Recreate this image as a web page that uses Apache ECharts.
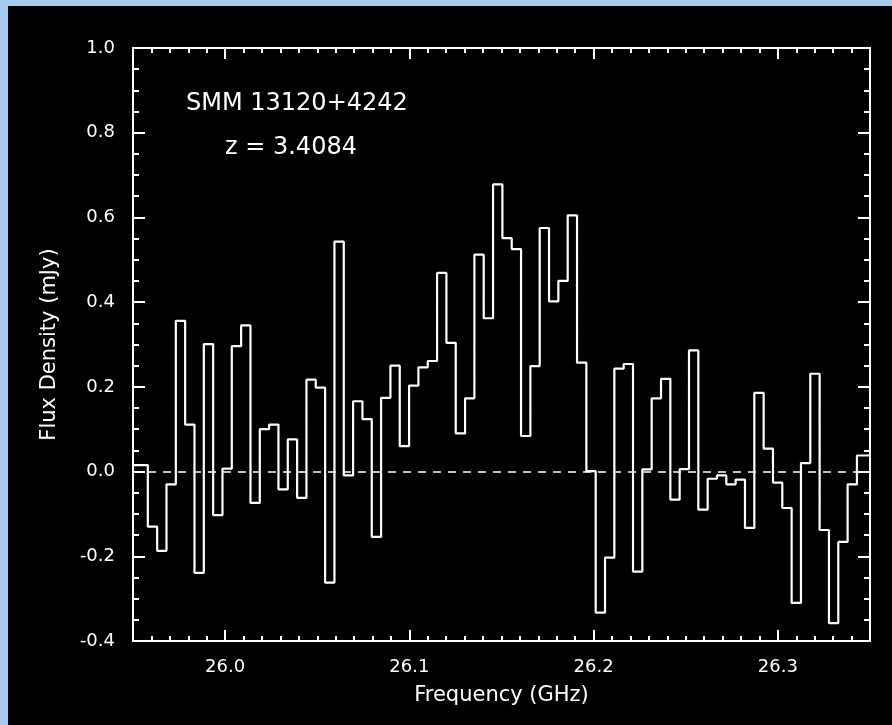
<!DOCTYPE html>
<html>
<head>
<meta charset="utf-8">
<script src="https://cdn.jsdelivr.net/npm/echarts@6/dist/echarts.min.js"></script>
<style>
html,body{margin:0;padding:0;background:#a7cbee;width:892px;height:725px;overflow:hidden;}
#chart{position:absolute;left:8px;top:6px;width:884px;height:719px;background:#000;}
</style>
</head>
<body>
<div id="chart"></div>
<script>
// Axis ranges and ticks
const xMin = 25.95, xMax = 26.35;
const yMin = -0.4, yMax = 1.0, yStep = 0.2;
const xTitle = 'Frequency (GHz)';
const yTitle = 'Flux Density (mJy)';
const sourceName = 'SMM 13120+4242';
const redshiftText = 'z = 3.4084';

// Spectral channels: first full-channel left edge and channel width (GHz)
const chanFirstEdge = 25.95805;
const chanWidth = 0.005064;

// Flux density per channel (mJy), left to right
const flux = [
  0.015, -0.13, -0.187, -0.03, 0.356, 0.111, -0.239, 0.301, -0.103, 0.007,
  0.296, 0.345, -0.074, 0.100, 0.111, -0.042, 0.076, -0.062, 0.217, 0.198,
  -0.262, 0.543, -0.009, 0.166, 0.124, -0.154, 0.174, 0.250, 0.060, 0.203,
  0.246, 0.261, 0.469, 0.304, 0.090, 0.173, 0.512, 0.362, 0.678, 0.551,
  0.525, 0.084, 0.249, 0.575, 0.402, 0.450, 0.605, 0.257, 0.001, -0.333,
  -0.203, 0.243, 0.254, -0.236, 0.005, 0.173, 0.219, -0.066, 0.006, 0.286,
  -0.090, -0.017, -0.009, -0.030, -0.019, -0.133, 0.186, 0.054, -0.026, -0.086,
  -0.310, 0.020, 0.231, -0.138, -0.358, -0.166, -0.030, 0.038
];

// Channel left edges: first channel is clipped at the axis minimum
const edges = flux.map((v, k) => k === 0 ? xMin : chanFirstEdge + (k - 1) * chanWidth);
const stepData = flux.map((v, k) => [edges[k], v]);
stepData.push([xMax, flux[flux.length - 1]]);

const white = '#ffffff';
const font = 'DejaVu Sans';

function xAxisCfg(pos, showLabels) {
  return {
    type: 'value', position: pos, min: xMin, max: xMax, splitNumber: 4,
    axisLine: { show: true, onZero: false, lineStyle: { color: white, width: 2 } },
    axisTick: { show: true, inside: true, length: 11, lineStyle: { color: white, width: 2 } },
    minorTick: { show: true, splitNumber: 10, length: 5, lineStyle: { color: white, width: 2 } },
    splitLine: { show: false },
    axisLabel: {
      show: showLabels, color: white, fontFamily: font, fontSize: 18, margin: 17,
      showMinLabel: false, showMaxLabel: false,
      formatter: v => v.toFixed(1)
    },
    name: showLabels ? xTitle : '', nameLocation: 'middle', nameGap: 44,
    nameTextStyle: { color: white, fontFamily: font, fontSize: 21 }
  };
}
function yAxisCfg(pos, showLabels) {
  return {
    type: 'value', position: pos, min: yMin, max: yMax, interval: yStep,
    axisLine: { show: true, onZero: false, lineStyle: { color: white, width: 2 } },
    axisTick: { show: true, inside: true, length: 12, lineStyle: { color: white, width: 2 } },
    minorTick: { show: true, splitNumber: 4, length: 6, lineStyle: { color: white, width: 2 } },
    splitLine: { show: false },
    axisLabel: {
      show: showLabels, color: white, fontFamily: font, fontSize: 18, margin: 18,
      formatter: v => v.toFixed(1)
    },
    name: showLabels ? yTitle : '', nameLocation: 'middle', nameGap: 73, nameRotate: 90,
    nameTextStyle: { color: white, fontFamily: font, fontSize: 21 }
  };
}

const chart = echarts.init(document.getElementById('chart'), null, { renderer: 'canvas' });
chart.setOption({
  backgroundColor: '#000000',
  animation: false,
  grid: { left: 125, top: 42, right: 22, bottom: 84, containLabel: false },
  xAxis: [xAxisCfg('bottom', true), xAxisCfg('top', false)],
  yAxis: [yAxisCfg('left', true), yAxisCfg('right', false)],
  graphic: [
    { type: 'text', left: 178, top: 86, style: { text: sourceName, fill: white, font: '24px "DejaVu Sans"' } },
    { type: 'text', left: 217, top: 130, style: { text: redshiftText, fill: white, font: '24px "DejaVu Sans"' } }
  ],
  series: [{
    type: 'line', xAxisIndex: 0, yAxisIndex: 0,
    step: 'end', showSymbol: false, symbol: 'none', clip: true,
    lineStyle: { color: white, width: 2.2 },
    data: stepData,
    markLine: {
      silent: true, symbol: 'none', label: { show: false },
      lineStyle: { color: white, width: 1.5, type: [8, 7] },
      data: [{ yAxis: 0 }]
    }
  }]
});
</script>
</body>
</html>
